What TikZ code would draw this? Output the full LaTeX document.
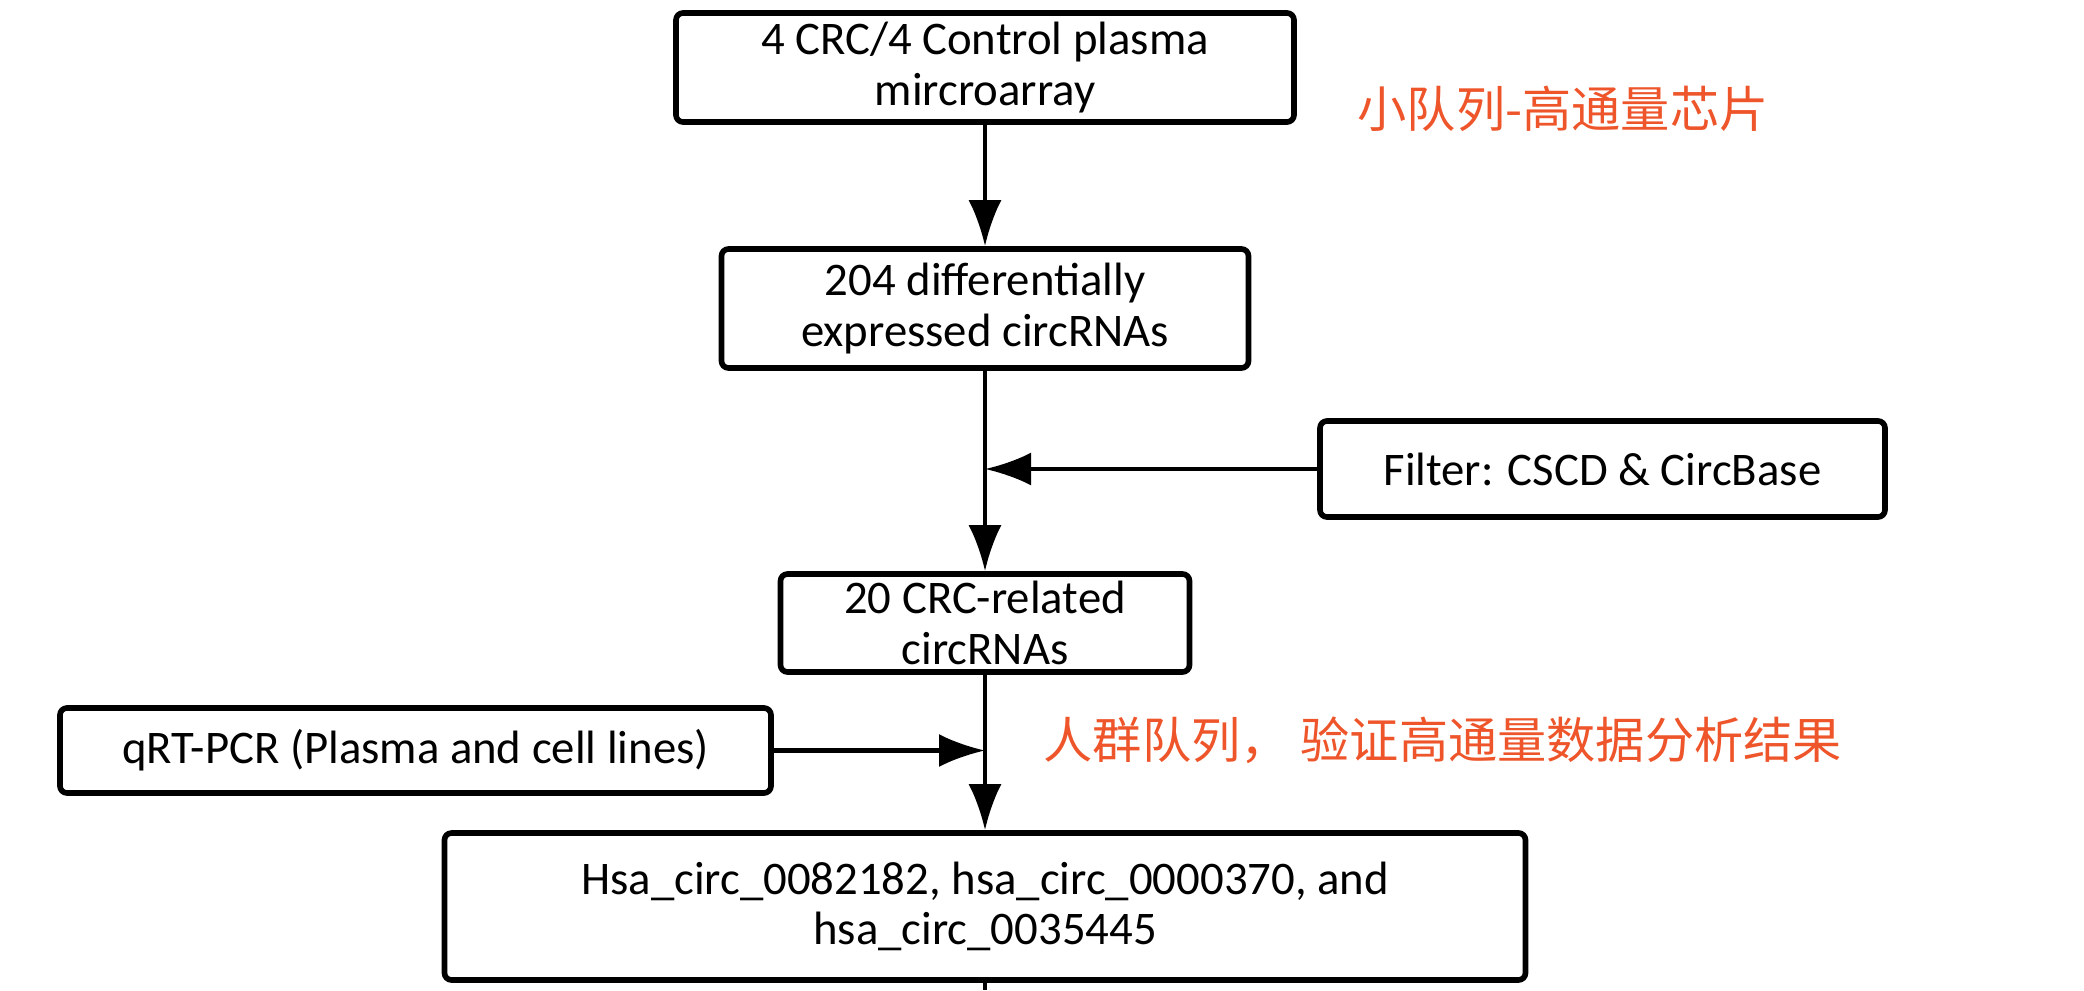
\documentclass[tikz,border=0pt]{standalone}
\usepackage{fontspec}
\setmainfont{Carlito}
\newfontfamily\cjk{Noto Sans CJK SC}
\usetikzlibrary{arrows.meta}
\definecolor{notered}{RGB}{238,85,42}

\begin{document}
\begin{tikzpicture}[box/.style={draw, line width=1.6pt, rounded corners=2pt, align=center, inner sep=0pt,
    font=\fontsize{13.3}{14.3}\selectfont},
  flow/.style={line width=1.2pt, -{Latex[length=4.6mm,width=3.3mm]}},
  note/.style={text=notered, anchor=west, inner sep=0pt, font=\cjk\fontsize{14}{16}\selectfont}]
\useasboundingbox (0,0) rectangle (20.84,-9.90);

\node[box, minimum width=6.18cm, minimum height=1.09cm] (array) at (9.85,-0.675) {4 CRC/4 Control plasma\\mircroarray};
\node[box, minimum width=5.27cm, minimum height=1.19cm] (diff) at (9.85,-3.085) {204 differentially\\expressed circRNAs};
\node[box, minimum width=5.65cm, minimum height=0.96cm] (filter) at (16.025,-4.69) {Filter: CSCD \& CircBase};
\node[box, minimum width=4.09cm, minimum height=0.98cm] (related) at (9.85,-6.23) {20 CRC-related\\circRNAs};
\node[box, minimum width=7.11cm, minimum height=0.85cm] (qrt) at (4.155,-7.505) {qRT-PCR (Plasma and cell lines)};
\node[box, minimum width=10.81cm, minimum height=1.47cm] (hits) at (9.85,-9.065) {Hsa\_circ\_0082182, hsa\_circ\_0000370, and\\hsa\_circ\_0035445};
\coordinate (tail) at (9.85,-9.90);

\node[note] (chip) at (13.57,-1.09) {小队列-高通量芯片};
\node[note] (cohort) at (10.43,-7.40) {人群队列， 验证高通量数据分析结果};

\draw[flow] (array) -- (diff);
\draw[flow] (diff) -- (related);
\draw[flow] (filter) -- (filter -| diff.south);
\draw[flow] (related) -- (hits);
\draw[flow] (qrt) -- (qrt -| related.south);
\draw[line width=1.2pt] (hits) -- (tail);
\end{tikzpicture}
\end{document}
